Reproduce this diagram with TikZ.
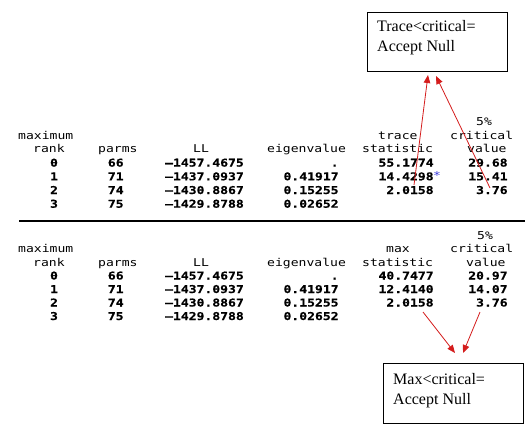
\documentclass[tikz,border=0pt]{standalone}
\usepackage{fontspec}
\usetikzlibrary{arrows.meta}
\newfontfamily\stm{DejaVu Sans Mono}[FakeStretch=1.21, BoldFeatures={FakeBold=0.5}]
\newfontfamily\tms{Liberation Serif}
\definecolor{arrred}{RGB}{212,28,28}
\definecolor{stblue}{RGB}{60,60,220}
\tikzset{
  hdr/.style={inner sep=0pt, anchor=base west, font=\stm\fontsize{10.8}{12}\selectfont},
  num/.style={inner sep=0pt, anchor=base east, font=\stm\bfseries\fontsize{10.8}{12}\selectfont},
  rnk/.style={inner sep=0pt, anchor=base, font=\stm\bfseries\fontsize{10.8}{12}\selectfont},
  callbox/.style={draw=black, line width=0.9pt, inner sep=0pt, anchor=north west},
  calltext/.style={inner sep=0pt, anchor=base west, font=\tms\fontsize{16}{19}\selectfont},
  redarr/.style={draw=arrred, line width=0.8pt, -{Triangle[length=8pt,width=6.5pt]}},
  sepline/.style={draw=black, line width=1.2pt}
}
\begin{document}
\begin{tikzpicture}[x=1pt,y=-1pt]
\useasboundingbox (0,0) rectangle (525,426);

% ---------- top table (trace) ----------
\node[hdr] (t5) at (476,125.5) {5\%};
\node[hdr] (tmax) at (18,139.2) {maximum};
\node[hdr] (ttrace) at (378,139.2) {trace};
\node[hdr] (tcrit) at (450,139.2) {critical};
\node[hdr] (trank) at (33,152.9) {rank};
\node[hdr] (tparms) at (98,152.9) {parms};
\node[hdr] (tLL) at (193,152.9) {LL};
\node[hdr] (teig) at (267,152.9) {eigenvalue};
\node[hdr] (tstat) at (362,152.9) {statistic};
\node[hdr] (tval) at (467,152.9) {value};
\foreach \yy/\r/\p/\l/\e [count=\i] in {166.6/0/66/–1457.4675/., 180.3/1/71/–1437.0937/0.41917, 194/2/74/–1430.8867/0.15255, 207.7/3/75/–1429.8788/0.02652}{
  \node[rnk] (tr\i) at (54,\yy) {\r};
  \node[num] (tp\i) at (123.8,\yy) {\p};
  \node[num] (tl\i) at (244,\yy) {\l};
  \node[num] (te\i) at (338.8,\yy) {\e};
}
\foreach \yy/\s/\c [count=\i] in {166.6/55.1774/29.68, 180.3/14.4298/15.41, 194/2.0158/3.76}{
  \node[num] (ts\i) at (433.8,\yy) {\s};
  \node[num] (tc\i) at (507.8,\yy) {\c};
}
\node[hdr, text=stblue] (tstar) at (432.8,179.3) {*};

% ---------- separator ----------
\coordinate (sepL) at (19,221);
\coordinate (sepR) at (525,221);
\draw[sepline] (sepL) -- (sepR);

% ---------- bottom table (max) ----------
\node[hdr] (b5) at (477,239) {5\%};
\node[hdr] (bmax) at (18,252.5) {maximum};
\node[hdr] (bmx) at (386,252.5) {max};
\node[hdr] (bcrit) at (450,252.5) {critical};
\node[hdr] (brank) at (33,266) {rank};
\node[hdr] (bparms) at (98,266) {parms};
\node[hdr] (bLL) at (193,266) {LL};
\node[hdr] (beig) at (267,266) {eigenvalue};
\node[hdr] (bstat) at (362,266) {statistic};
\node[hdr] (bval) at (466,266) {value};
\foreach \yy/\r/\p/\l/\e [count=\i] in {279.5/0/66/–1457.4675/., 293/1/71/–1437.0937/0.41917, 306.5/2/74/–1430.8867/0.15255, 320/3/75/–1429.8788/0.02652}{
  \node[rnk] (br\i) at (54,\yy) {\r};
  \node[num] (bp\i) at (123.8,\yy) {\p};
  \node[num] (bl\i) at (244,\yy) {\l};
  \node[num] (be\i) at (338.8,\yy) {\e};
}
\foreach \yy/\s/\c [count=\i] in {279.5/40.7477/20.97, 293/12.4140/14.07, 306.5/2.0158/3.76}{
  \node[num] (bs\i) at (433.8,\yy) {\s};
  \node[num] (bc\i) at (507.8,\yy) {\c};
}

% ---------- callouts ----------
\node[callbox, minimum width=140pt, minimum height=59pt] (topbox) at (367,12) {};
\node[calltext] (topl1) at (377,31) {Trace<critical=};
\node[calltext] (topl2) at (377,51.5) {Accept Null};

\node[callbox, minimum width=140pt, minimum height=60pt] (botbox) at (383,363) {};
\node[calltext] (botl1) at (393,384) {Max<critical=};
\node[calltext] (botl2) at (393,404.5) {Accept Null};

% ---------- arrows ----------
\coordinate (a1s) at (414,185);
\coordinate (a1e) at (428,75);
\coordinate (a2s) at (490,188);
\coordinate (a2e) at (436,76);
\coordinate (b1s) at (423,312);
\coordinate (b1e) at (455,353);
\coordinate (b2s) at (480,312);
\coordinate (b2e) at (463,353);
\draw[redarr] (a1s) -- (a1e);
\draw[redarr] (a2s) -- (a2e);
\draw[redarr] (b1s) -- (b1e);
\draw[redarr] (b2s) -- (b2e);
\end{tikzpicture}
\end{document}
